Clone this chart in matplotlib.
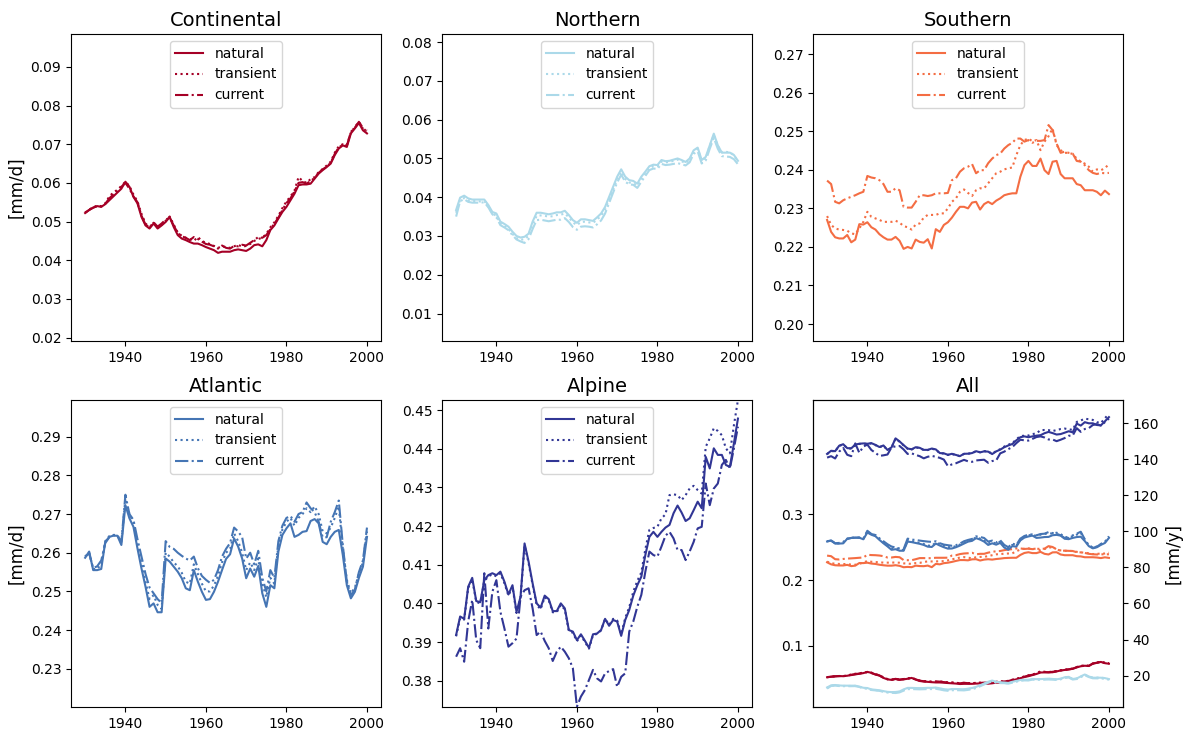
##### import matplotlib.pyplot and numpy #####
import matplotlib
matplotlib.use("Agg")
import matplotlib.pyplot as plt
import numpy as np

##### data: yearly precipitation [mm/d] per region and scenario #####
years = list(range(1930, 2001))

cont_nat = [0.0522, 0.0530, 0.0536, 0.0540, 0.0538, 0.0545, 0.0555, 0.0565, 0.0575, 0.0585,
            0.0603, 0.0590, 0.0564, 0.0547, 0.0512, 0.0490, 0.0482, 0.0495, 0.0482, 0.0490,
            0.0499, 0.0512, 0.0486, 0.0465, 0.0456, 0.0452, 0.0447, 0.0443, 0.0443, 0.0439,
            0.0434, 0.0430, 0.0426, 0.0419, 0.0422, 0.0422, 0.0422, 0.0426, 0.0428, 0.0426,
            0.0424, 0.0430, 0.0439, 0.0441, 0.0436, 0.0452, 0.0478, 0.0490, 0.0508, 0.0525,
            0.0538, 0.0555, 0.0572, 0.0594, 0.0596, 0.0596, 0.0598, 0.0611, 0.0624, 0.0633,
            0.0641, 0.0650, 0.0672, 0.0689, 0.0697, 0.0693, 0.0728, 0.0741, 0.0755, 0.0736,
            0.0728]
cont_tra = [0.0523, 0.0531, 0.0537, 0.0541, 0.0540, 0.0547, 0.0565, 0.0575, 0.0582, 0.0592,
            0.0603, 0.0592, 0.0570, 0.0552, 0.0520, 0.0495, 0.0485, 0.0497, 0.0485, 0.0492,
            0.0502, 0.0513, 0.0492, 0.0472, 0.0463, 0.0458, 0.0455, 0.0450, 0.0460, 0.0450,
            0.0445, 0.0442, 0.0437, 0.0432, 0.0436, 0.0434, 0.0432, 0.0436, 0.0440, 0.0435,
            0.0437, 0.0442, 0.0450, 0.0455, 0.0458, 0.0468, 0.0485, 0.0498, 0.0515, 0.0535,
            0.0552, 0.0565, 0.0580, 0.0615, 0.0605, 0.0600, 0.0610, 0.0615, 0.0628, 0.0636,
            0.0645, 0.0655, 0.0678, 0.0695, 0.0700, 0.0698, 0.0730, 0.0745, 0.0758, 0.0740,
            0.0735]
cont_cur = [0.0523, 0.0530, 0.0536, 0.0540, 0.0539, 0.0546, 0.0560, 0.0570, 0.0578, 0.0590,
            0.0600, 0.0585, 0.0565, 0.0550, 0.0515, 0.0492, 0.0485, 0.0498, 0.0487, 0.0495,
            0.0505, 0.0510, 0.0490, 0.0470, 0.0462, 0.0458, 0.0452, 0.0460, 0.0455, 0.0448,
            0.0442, 0.0440, 0.0436, 0.0430, 0.0438, 0.0432, 0.0430, 0.0437, 0.0436, 0.0440,
            0.0438, 0.0445, 0.0452, 0.0460, 0.0458, 0.0465, 0.0480, 0.0495, 0.0510, 0.0530,
            0.0548, 0.0560, 0.0578, 0.0600, 0.0602, 0.0598, 0.0605, 0.0613, 0.0626, 0.0635,
            0.0642, 0.0652, 0.0675, 0.0692, 0.0698, 0.0696, 0.0732, 0.0743, 0.0758, 0.0742,
            0.0732]

north_nat = [0.0367, 0.0399, 0.0404, 0.0397, 0.0394, 0.0394, 0.0394, 0.0394, 0.0380, 0.0362,
             0.0358, 0.0337, 0.0331, 0.0324, 0.0311, 0.0300, 0.0296, 0.0298, 0.0306, 0.0337,
             0.0360, 0.0360, 0.0358, 0.0356, 0.0358, 0.0361, 0.0361, 0.0365, 0.0354, 0.0341,
             0.0334, 0.0343, 0.0343, 0.0341, 0.0339, 0.0348, 0.0358, 0.0375, 0.0401, 0.0427,
             0.0453, 0.0472, 0.0453, 0.0444, 0.0442, 0.0435, 0.0453, 0.0466, 0.0480, 0.0484,
             0.0483, 0.0496, 0.0493, 0.0494, 0.0497, 0.0500, 0.0496, 0.0491, 0.0500, 0.0521,
             0.0528, 0.0496, 0.0504, 0.0534, 0.0564, 0.0534, 0.0515, 0.0515, 0.0515, 0.0509,
             0.0494]
north_tra = [0.0360, 0.0393, 0.0398, 0.0392, 0.0390, 0.0390, 0.0389, 0.0390, 0.0376, 0.0358,
             0.0352, 0.0332, 0.0326, 0.0318, 0.0305, 0.0295, 0.0290, 0.0292, 0.0300, 0.0328,
             0.0352, 0.0353, 0.0352, 0.0350, 0.0351, 0.0354, 0.0355, 0.0358, 0.0348, 0.0335,
             0.0328, 0.0336, 0.0337, 0.0335, 0.0334, 0.0342, 0.0352, 0.0368, 0.0394, 0.0420,
             0.0446, 0.0466, 0.0447, 0.0438, 0.0436, 0.0430, 0.0447, 0.0460, 0.0475, 0.0480,
             0.0480, 0.0492, 0.0490, 0.0491, 0.0494, 0.0497, 0.0493, 0.0488, 0.0497, 0.0518,
             0.0525, 0.0494, 0.0502, 0.0532, 0.0560, 0.0532, 0.0516, 0.0517, 0.0516, 0.0508,
             0.0492]
north_cur = [0.0350, 0.0390, 0.0395, 0.0388, 0.0386, 0.0386, 0.0386, 0.0387, 0.0374, 0.0356,
             0.0348, 0.0328, 0.0322, 0.0315, 0.0302, 0.0291, 0.0286, 0.0282, 0.0292, 0.0318,
             0.0341, 0.0342, 0.0340, 0.0338, 0.0340, 0.0342, 0.0342, 0.0346, 0.0336, 0.0323,
             0.0316, 0.0324, 0.0325, 0.0324, 0.0322, 0.0330, 0.0340, 0.0358, 0.0385, 0.0412,
             0.0438, 0.0458, 0.0440, 0.0433, 0.0432, 0.0424, 0.0440, 0.0455, 0.0470, 0.0474,
             0.0473, 0.0486, 0.0483, 0.0484, 0.0486, 0.0488, 0.0485, 0.0482, 0.0490, 0.0512,
             0.0518, 0.0487, 0.0495, 0.0525, 0.0553, 0.0525, 0.0506, 0.0505, 0.0504, 0.0498,
             0.0485]

south_nat = [0.2270, 0.2239, 0.2225, 0.2222, 0.2222, 0.2231, 0.2212, 0.2219, 0.2259, 0.2258,
             0.2264, 0.2251, 0.2245, 0.2233, 0.2225, 0.2219, 0.2219, 0.2226, 0.2216, 0.2195,
             0.2200, 0.2196, 0.2219, 0.2213, 0.2211, 0.2220, 0.2196, 0.2246, 0.2239, 0.2257,
             0.2264, 0.2276, 0.2291, 0.2304, 0.2304, 0.2300, 0.2315, 0.2317, 0.2297, 0.2311,
             0.2317, 0.2311, 0.2320, 0.2326, 0.2334, 0.2337, 0.2339, 0.2339, 0.2382, 0.2412,
             0.2423, 0.2410, 0.2410, 0.2429, 0.2399, 0.2389, 0.2421, 0.2423, 0.2389, 0.2378,
             0.2378, 0.2378, 0.2363, 0.2360, 0.2347, 0.2347, 0.2347, 0.2343, 0.2334, 0.2346,
             0.2337]
south_tra = [0.2280, 0.2257, 0.2248, 0.2245, 0.2244, 0.2242, 0.2235, 0.2233, 0.2248, 0.2265,
             0.2291, 0.2278, 0.2274, 0.2270, 0.2265, 0.2265, 0.2265, 0.2268, 0.2263, 0.2254,
             0.2251, 0.2245, 0.2258, 0.2261, 0.2276, 0.2283, 0.2283, 0.2283, 0.2287, 0.2287,
             0.2300, 0.2317, 0.2326, 0.2343, 0.2349, 0.2340, 0.2332, 0.2347, 0.2352, 0.2352,
             0.2365, 0.2378, 0.2391, 0.2395, 0.2401, 0.2404, 0.2406, 0.2438, 0.2464, 0.2477,
             0.2481, 0.2474, 0.2477, 0.2451, 0.2473, 0.2487, 0.2507, 0.2464, 0.2451, 0.2444,
             0.2444, 0.2441, 0.2429, 0.2421, 0.2416, 0.2408, 0.2395, 0.2401, 0.2399, 0.2404,
             0.2415]
south_cur = [0.2372, 0.2363, 0.2317, 0.2313, 0.2321, 0.2326, 0.2330, 0.2334, 0.2339, 0.2343,
             0.2384, 0.2380, 0.2378, 0.2373, 0.2363, 0.2343, 0.2343, 0.2352, 0.2347, 0.2304,
             0.2302, 0.2302, 0.2317, 0.2334, 0.2334, 0.2332, 0.2334, 0.2339, 0.2339, 0.2339,
             0.2340, 0.2373, 0.2378, 0.2395, 0.2404, 0.2408, 0.2415, 0.2391, 0.2399, 0.2399,
             0.2417, 0.2429, 0.2438, 0.2442, 0.2455, 0.2464, 0.2470, 0.2481, 0.2481, 0.2473,
             0.2477, 0.2470, 0.2475, 0.2475, 0.2477, 0.2516, 0.2503, 0.2468, 0.2444, 0.2447,
             0.2444, 0.2442, 0.2423, 0.2421, 0.2412, 0.2399, 0.2392, 0.2389, 0.2392, 0.2391,
             0.2392]

atl_nat = [0.2587, 0.2603, 0.2555, 0.2555, 0.2558, 0.2628, 0.2641, 0.2644, 0.2644, 0.2620,
           0.2723, 0.2689, 0.2667, 0.2611, 0.2559, 0.2512, 0.2460, 0.2469, 0.2446, 0.2446,
           0.2585, 0.2577, 0.2564, 0.2551, 0.2534, 0.2508, 0.2503, 0.2555, 0.2525, 0.2499,
           0.2478, 0.2480, 0.2499, 0.2525, 0.2555, 0.2584, 0.2596, 0.2637, 0.2616, 0.2585,
           0.2534, 0.2559, 0.2538, 0.2566, 0.2495, 0.2460, 0.2516, 0.2508, 0.2603, 0.2646,
           0.2663, 0.2676, 0.2641, 0.2646, 0.2654, 0.2656, 0.2682, 0.2687, 0.2676, 0.2628,
           0.2622, 0.2641, 0.2654, 0.2659, 0.2594, 0.2516, 0.2482, 0.2499, 0.2535, 0.2564,
           0.2641]
atl_tra = [0.2590, 0.2600, 0.2558, 0.2558, 0.2570, 0.2630, 0.2643, 0.2646, 0.2646, 0.2625,
           0.2740, 0.2700, 0.2680, 0.2620, 0.2570, 0.2525, 0.2480, 0.2490, 0.2465, 0.2455,
           0.2600, 0.2590, 0.2575, 0.2565, 0.2548, 0.2525, 0.2520, 0.2570, 0.2545, 0.2520,
           0.2500, 0.2500, 0.2515, 0.2540, 0.2575, 0.2600, 0.2610, 0.2650, 0.2630, 0.2600,
           0.2555, 0.2575, 0.2555, 0.2585, 0.2520, 0.2485, 0.2535, 0.2520, 0.2620, 0.2660,
           0.2680, 0.2690, 0.2670, 0.2690, 0.2700, 0.2715, 0.2705, 0.2720, 0.2700, 0.2655,
           0.2650, 0.2665, 0.2690, 0.2720, 0.2610, 0.2530, 0.2495, 0.2510, 0.2545, 0.2575,
           0.2655]
atl_cur = [0.2590, 0.2598, 0.2560, 0.2565, 0.2580, 0.2625, 0.2640, 0.2645, 0.2645, 0.2628,
           0.2750, 0.2700, 0.2685, 0.2635, 0.2590, 0.2545, 0.2510, 0.2495, 0.2480, 0.2470,
           0.2630, 0.2615, 0.2610, 0.2600, 0.2592, 0.2585, 0.2580, 0.2590, 0.2560, 0.2540,
           0.2530, 0.2522, 0.2530, 0.2555, 0.2590, 0.2610, 0.2625, 0.2665, 0.2655, 0.2640,
           0.2585, 0.2600, 0.2570, 0.2605, 0.2535, 0.2500, 0.2555, 0.2535, 0.2630, 0.2670,
           0.2690, 0.2695, 0.2680, 0.2700, 0.2705, 0.2730, 0.2715, 0.2705, 0.2680, 0.2640,
           0.2640, 0.2680, 0.2705, 0.2735, 0.2620, 0.2525, 0.2490, 0.2505, 0.2550, 0.2580,
           0.2665]

alp_nat = [0.3918, 0.3966, 0.3960, 0.4043, 0.4066, 0.4006, 0.4003, 0.4060, 0.4073, 0.4078,
           0.4073, 0.4082, 0.4056, 0.4023, 0.4047, 0.3978, 0.4017, 0.4155, 0.4108, 0.4052,
           0.4000, 0.3989, 0.4020, 0.4011, 0.3980, 0.3980, 0.4000, 0.3987, 0.3931, 0.3927,
           0.3905, 0.3920, 0.3903, 0.3885, 0.3920, 0.3922, 0.3931, 0.3960, 0.3942, 0.3957,
           0.3953, 0.3916, 0.3957, 0.3983, 0.4020, 0.4047, 0.4069, 0.4125, 0.4172, 0.4185,
           0.4172, 0.4185, 0.4196, 0.4203, 0.4233, 0.4253, 0.4235, 0.4213, 0.4220, 0.4241,
           0.4263, 0.4246, 0.4379, 0.4349, 0.4401, 0.4384, 0.4384, 0.4358, 0.4353, 0.4414,
           0.4478]
alp_tra = [0.3915, 0.3962, 0.3958, 0.4040, 0.4062, 0.4004, 0.4000, 0.4057, 0.4070, 0.4075,
           0.4070, 0.4078, 0.4052, 0.4020, 0.4043, 0.3975, 0.4014, 0.4150, 0.4104, 0.4048,
           0.3996, 0.3985, 0.4016, 0.4008, 0.3977, 0.3977, 0.3996, 0.3984, 0.3928, 0.3924,
           0.3902, 0.3917, 0.3900, 0.3883, 0.3918, 0.3921, 0.3930, 0.3960, 0.3944, 0.3960,
           0.3956, 0.3920, 0.3962, 0.3990, 0.4030, 0.4058, 0.4080, 0.4140, 0.4190, 0.4195,
           0.4198, 0.4220, 0.4230, 0.4280, 0.4282, 0.4280, 0.4267, 0.4280, 0.4297, 0.4304,
           0.4293, 0.4284, 0.4405, 0.4427, 0.4453, 0.4446, 0.4435, 0.4401, 0.4388, 0.4461,
           0.4526]
alp_cur = [0.3862, 0.3884, 0.3849, 0.3953, 0.4009, 0.3905, 0.3884, 0.4078, 0.3935, 0.4030,
           0.4060, 0.3978, 0.3935, 0.3888, 0.3897, 0.3909, 0.4017, 0.4034, 0.4039, 0.3987,
           0.3918, 0.3927, 0.3903, 0.3884, 0.3851, 0.3875, 0.3888, 0.3875, 0.3858, 0.3832,
           0.3733, 0.3759, 0.3776, 0.3802, 0.3828, 0.3806, 0.3798, 0.3819, 0.3825, 0.3830,
           0.3784, 0.3810, 0.3819, 0.3927, 0.3953, 0.3991, 0.4022, 0.4082, 0.4134, 0.4125,
           0.4121, 0.4147, 0.4175, 0.4185, 0.4168, 0.4138, 0.4138, 0.4112, 0.4134, 0.4159,
           0.4194, 0.4198, 0.4310, 0.4254, 0.4297, 0.4310, 0.4358, 0.4371, 0.4349, 0.4401,
           0.4457]

regions = ['Continental', 'Northern', 'Southern', 'Atlantic', 'Alpine']
colors = ['#a50026', '#abd9e9', '#f46d43', '#4575b4', '#313695']
series = [[cont_nat, cont_tra, cont_cur],
          [north_nat, north_tra, north_cur],
          [south_nat, south_tra, south_cur],
          [atl_nat, atl_tra, atl_cur],
          [alp_nat, alp_tra, alp_cur]]
scenarios = ['natural', 'transient', 'current']
styles = ['-', ':', '-.']
ylims = [(0.0191, 0.0985), (0.0029, 0.0821), (0.1956, 0.2752),
         (0.2201, 0.2995), (0.3732, 0.4526)]

##### figure layout #####
fig = plt.figure(figsize=(11.86, 7.29), dpi=100)
lefts = [0.0599, 0.3727, 0.6855]
bottoms = [0.5322, 0.0302]
w, h = 0.2614, 0.4211
axes = []
for r in range(2):
    for c in range(3):
        axes.append(fig.add_axes([lefts[c], bottoms[r], w, h]))

# one panel per region
for i, name in enumerate(regions):
    ax = axes[i]
    for vals, lab, ls in zip(series[i], scenarios, styles):
        ax.plot(years, vals, color=colors[i], linestyle=ls, linewidth=1.5, label=lab)
    ax.set_ylim(ylims[i])
    ax.set_title(name, fontsize=14)
    ax.legend(loc='upper center', fontsize=10)
    ax.set_xticks([1940, 1960, 1980, 2000])

axes[0].set_ylabel('[mm/d]', fontsize=12)
axes[3].set_ylabel('[mm/d]', fontsize=12)

# all regions together, with mm/y on the right
ax = axes[5]
for i in range(len(regions)):
    for vals, ls in zip(series[i], styles):
        ax.plot(years, vals, color=colors[i], linestyle=ls, linewidth=1.5)
ax.set_title('All', fontsize=14)
ax.set_xticks([1940, 1960, 1980, 2000])
lo, hi = ax.get_ylim()
ax2 = ax.twinx()
ax2.set_ylim(lo * 365, hi * 365)
ax2.set_ylabel('[mm/y]', fontsize=12)

plt.savefig('out.png', dpi=100)
